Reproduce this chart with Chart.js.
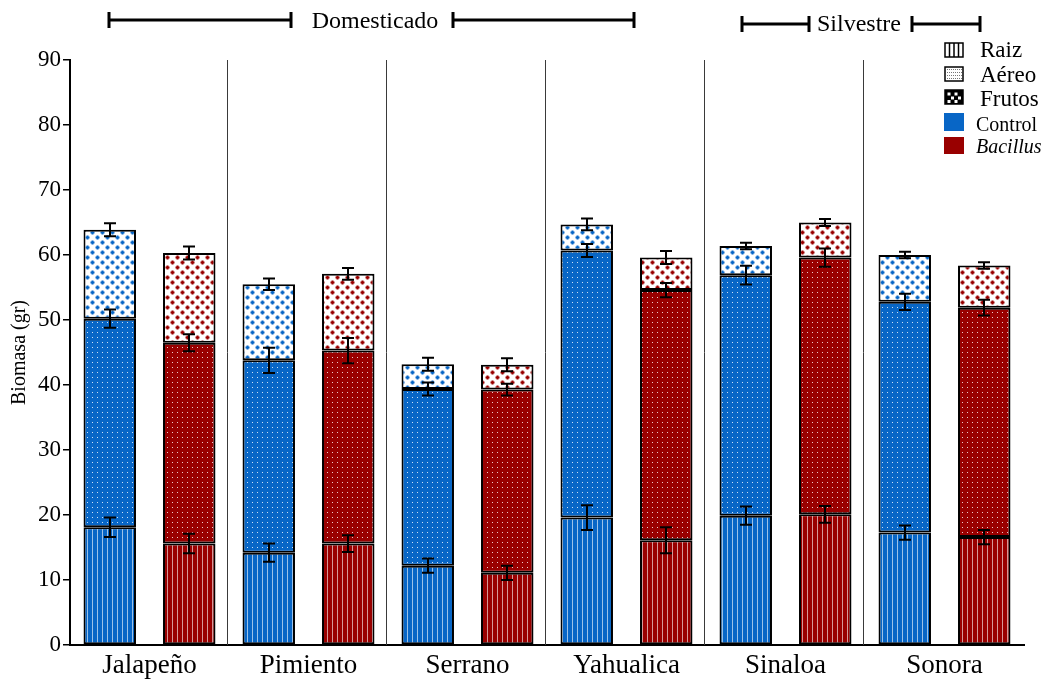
<!DOCTYPE html>
<html>
<head>
<meta charset="utf-8">
<script src="https://cdn.jsdelivr.net/npm/chart.js@4.4.1/dist/chart.umd.min.js"></script>
<style>
  html, body { margin: 0; padding: 0; background: #fff; }
  #wrap { width: 1049px; height: 683px; position: relative; }
</style>
</head>
<body>
<div id="wrap"><canvas id="chart"></canvas></div>
<script>
// Plant biomass (g) per cultivar, split by organ, Control vs Bacillus
const categories = ['Jalapeño', 'Pimiento', 'Serrano', 'Yahualica', 'Sinaloa', 'Sonora'];

const controlRaiz    = [18.1, 14.2, 12.2, 19.6, 19.9, 17.3];
const controlAereo   = [32.1, 29.6, 27.2, 41.1, 37.0, 35.5];
const controlFrutos  = [13.7, 11.7,  3.8,  4.0,  4.5,  7.2];
const bacillusRaiz   = [15.6, 15.6, 11.1, 16.1, 20.1, 16.6];
const bacillusAereo  = [30.9, 29.7, 28.2, 38.5, 39.5, 35.3];
const bacillusFrutos = [13.8, 11.8,  3.8,  5.0,  5.4,  6.5];

// standard errors at the top of each segment
const controlRaizErr    = [1.5, 1.4, 1.1, 1.9, 1.4, 1.1];
const controlAereoErr   = [1.4, 1.95, 1.0, 1.0, 1.45, 1.25];
const controlFrutosErr  = [1.0, 0.9, 1.0, 0.9, 0.5, 0.5];
const bacillusRaizErr   = [1.5, 1.3, 1.1, 2.0, 1.3, 1.1];
const bacillusAereoErr  = [1.3, 1.95, 0.9, 1.1, 1.4, 1.2];
const bacillusFrutosErr = [1.0, 0.9, 1.0, 1.0, 0.55, 0.5];

const yMin = 0, yMax = 90, yStep = 10;
const organLabels = ['Raiz', 'Aéreo', 'Frutos'];
const treatmentLabels = ['Control', 'Bacillus'];
const groupLabels = ['Domesticado', 'Silvestre'];

const BLUE = '#0866c6';
const RED = '#990000';
const SERIF = '"Liberation Serif", "Times New Roman", serif';

// ---- fill patterns ----
function tile(w, h, draw) {
  const c = document.createElement('canvas');
  c.width = w; c.height = h;
  const g = c.getContext('2d');
  draw(g, w, h);
  return c;
}
function plus(g, cx, cy) {
  g.fillRect(cx - 1, cy - 2, 2, 4);
  g.fillRect(cx - 2, cy - 1, 4, 2);
}
const ctx0 = document.createElement('canvas').getContext('2d');
function raizPattern(color) {
  return ctx0.createPattern(tile(5, 5, (g, w, h) => {
    g.fillStyle = color; g.fillRect(0, 0, w, h);
    g.fillStyle = 'rgba(255,255,255,0.6)'; g.fillRect(2, 0, 1, h);
  }), 'repeat');
}
function aereoPattern(color) {
  return ctx0.createPattern(tile(5, 5, (g, w, h) => {
    g.fillStyle = color; g.fillRect(0, 0, w, h);
    g.fillStyle = 'rgba(255,255,255,0.8)'; g.fillRect(2, 2, 1, 1);
  }), 'repeat');
}
function frutosPattern(color) {
  return ctx0.createPattern(tile(10, 10, (g, w, h) => {
    g.fillStyle = '#fff'; g.fillRect(0, 0, w, h);
    g.fillStyle = color;
    plus(g, 2.5, 2.5);
    plus(g, 7.5, 7.5);
  }), 'repeat');
}

function ds(label, data, errs, stack, bg) {
  return {
    label, data, errs, stack,
    backgroundColor: bg,
    borderColor: '#000',
    borderWidth: 2,
    borderSkipped: false,
    categoryPercentage: 1.0,
    barPercentage: 0.66
  };
}

const datasets = [
  ds('Control Raiz',   controlRaiz,   controlRaizErr,   'Control', raizPattern(BLUE)),
  ds('Control Aéreo',  controlAereo,  controlAereoErr,  'Control', aereoPattern(BLUE)),
  ds('Control Frutos', controlFrutos, controlFrutosErr, 'Control', frutosPattern(BLUE)),
  ds('Bacillus Raiz',   bacillusRaiz,   bacillusRaizErr,   'Bacillus', raizPattern(RED)),
  ds('Bacillus Aéreo',  bacillusAereo,  bacillusAereoErr,  'Bacillus', aereoPattern(RED)),
  ds('Bacillus Frutos', bacillusFrutos, bacillusFrutosErr, 'Bacillus', frutosPattern(RED))
];

// thin dividers between cultivars
const dividers = {
  id: 'dividers',
  beforeDatasetsDraw(chart) {
    const { ctx, chartArea, scales: { x } } = chart;
    ctx.save();
    ctx.strokeStyle = '#3a3a3a';
    ctx.lineWidth = 1;
    for (let k = 1; k < categories.length; k++) {
      const px = Math.round((x.getPixelForValue(k - 1) + x.getPixelForValue(k)) / 2) - 2 + 0.5;
      ctx.beginPath();
      ctx.moveTo(px, chartArea.top);
      ctx.lineTo(px, chartArea.bottom);
      ctx.stroke();
    }
    ctx.restore();
  }
};

// error bars at the top of every stacked segment
const errorBars = {
  id: 'errorBars',
  afterDatasetsDraw(chart) {
    const { ctx, scales: { y } } = chart;
    ctx.save();
    ctx.strokeStyle = '#000';
    ctx.lineWidth = 2;
    chart.data.datasets.forEach((d, di) => {
      const meta = chart.getDatasetMeta(di);
      meta.data.forEach((bar, i) => {
        const e = d.errs[i];
        const dy = y.getPixelForValue(0) - y.getPixelForValue(e);
        const cx = Math.round(bar.x);
        const y1 = bar.y - dy, y2 = bar.y + dy, cap = 6;
        ctx.beginPath();
        ctx.moveTo(cx, y1); ctx.lineTo(cx, y2);
        ctx.moveTo(cx - cap, y1); ctx.lineTo(cx + cap, y1);
        ctx.moveTo(cx - cap, y2); ctx.lineTo(cx + cap, y2);
        ctx.stroke();
      });
    });
    ctx.restore();
  }
};

// group brackets above the plot and the legend at the upper right
const annotations = {
  id: 'annotations',
  afterDraw(chart) {
    const ctx = chart.ctx;
    ctx.save();
    ctx.strokeStyle = '#000';
    ctx.lineWidth = 3;
    function bracket(x1, x2, yy) {
      ctx.beginPath();
      ctx.moveTo(x1, yy); ctx.lineTo(x2, yy);
      ctx.moveTo(x1, yy - 8); ctx.lineTo(x1, yy + 8);
      ctx.moveTo(x2, yy - 8); ctx.lineTo(x2, yy + 8);
      ctx.stroke();
    }
    bracket(109, 291, 20);
    bracket(453, 634, 20);
    bracket(742, 809, 24);
    bracket(912, 980, 24);
    ctx.fillStyle = '#000';
    ctx.font = '24px ' + SERIF;
    ctx.textAlign = 'center';
    ctx.textBaseline = 'alphabetic';
    ctx.fillText(groupLabels[0], 375, 28);
    ctx.fillText(groupLabels[1], 859, 31);

    // legend: organ patterns
    const lx = 945, sw = 18, sh = 14;
    const rows = [43, 67, 90];
    // Raiz swatch
    ctx.lineWidth = 1.5;
    ctx.fillStyle = '#fff';
    ctx.fillRect(lx, rows[0], sw, sh);
    ctx.beginPath();
    for (let k = 1; k <= 3; k++) {
      const px = lx + k * 4.5;
      ctx.moveTo(px, rows[0]); ctx.lineTo(px, rows[0] + sh);
    }
    ctx.stroke();
    ctx.strokeRect(lx, rows[0], sw, sh);
    // Aéreo swatch
    ctx.fillStyle = '#fff';
    ctx.fillRect(lx, rows[1], sw, sh);
    ctx.fillStyle = '#777';
    for (let yy = rows[1] + 2; yy < rows[1] + sh - 1; yy += 3) {
      for (let xx = lx + 2; xx < lx + sw - 1; xx += 2) ctx.fillRect(xx, yy, 1, 1);
    }
    ctx.strokeRect(lx, rows[1], sw, sh);
    // Frutos swatch
    ctx.fillStyle = '#000';
    ctx.fillRect(lx, rows[2], sw, sh);
    ctx.fillStyle = '#fff';
    [[4, 4], [11, 4], [7.5, 8], [14.5, 8], [4, 11.5], [11, 11.5]].forEach(p => {
      ctx.fillRect(lx + p[0] - 1.5, rows[2] + p[1] - 1.5, 3, 3);
    });
    ctx.strokeRect(lx, rows[2], sw, sh);

    ctx.fillStyle = '#000';
    ctx.textAlign = 'left';
    ctx.font = '23px ' + SERIF;
    ctx.fillText(organLabels[0], 980, 57);
    ctx.fillText(organLabels[1], 980, 82);
    ctx.fillText(organLabels[2], 980, 106);

    // legend: treatments
    ctx.fillStyle = BLUE;
    ctx.fillRect(944, 113, 20, 18);
    ctx.fillStyle = RED;
    ctx.fillRect(944, 137, 20, 17);
    ctx.fillStyle = '#000';
    ctx.font = '20px ' + SERIF;
    ctx.fillText(treatmentLabels[0], 976, 131);
    ctx.font = 'italic 20px ' + SERIF;
    ctx.fillText(treatmentLabels[1], 976, 153);
    ctx.restore();
  }
};

Chart.defaults.font.family = SERIF;
Chart.defaults.color = '#000';

new Chart(document.getElementById('chart'), {
  type: 'bar',
  data: { labels: categories, datasets },
  options: {
    responsive: true,
    maintainAspectRatio: false,
    animation: false,
    layout: { padding: { left: 0, right: 25, top: 60, bottom: 0 } },
    plugins: { legend: { display: false }, tooltip: { enabled: false } },
    scales: {
      x: {
        stacked: true,
        grid: { display: false, drawTicks: false },
        border: { display: true, color: '#000', width: 2 },
        ticks: { font: { size: 27 }, padding: 5, color: '#000', maxRotation: 0 },
        afterFit(scale) { scale.height = 38; }
      },
      y: {
        stacked: true,
        min: yMin, max: yMax,
        grid: { display: true, drawOnChartArea: false, drawTicks: true, tickLength: 7, color: '#000', lineWidth: 1.5 },
        border: { display: true, color: '#000', width: 2 },
        ticks: { stepSize: yStep, font: { size: 23 }, padding: 2, color: '#000' },
        title: { display: true, text: 'Biomasa (gr)', font: { size: 20 }, padding: { top: 8, bottom: 0 }, color: '#000' },
        afterFit(scale) { scale.width = 70; }
      }
    }
  },
  plugins: [dividers, errorBars, annotations]
});
</script>
</body>
</html>
